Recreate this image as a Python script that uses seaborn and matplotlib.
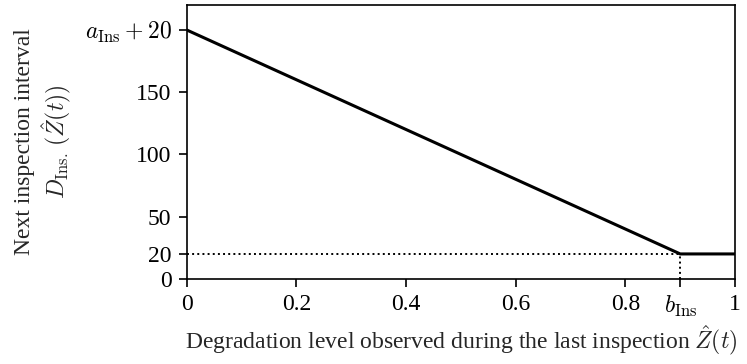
import matplotlib
matplotlib.use("Agg")
import matplotlib.pyplot as plt
import seaborn as sns
import pandas as pd

# Data
degradation = [0.0, 0.9, 1.0]
interval = [200, 20, 20]
b_ins = 0.9
d_min = 20
x_ticks = [0, 0.2, 0.4, 0.6, 0.8, 0.9, 1]
x_ticklabels = ["0", "0.2", "0.4", "0.6", "0.8", r"$b_{\mathrm{Ins}}$", "1"]
y_ticks = [0, 20, 50, 100, 150, 200]
y_ticklabels = ["0", "20", "50", "100", "150", r"$a_{\mathrm{Ins}}+20$"]

sns.set_theme(style="ticks")
plt.rcParams["font.family"] = ["Liberation Serif", "DejaVu Serif"]
plt.rcParams["mathtext.fontset"] = "cm"

FS = 17

fig, ax = plt.subplots(figsize=(7.47, 3.64), dpi=100)
fig.subplots_adjust(left=0.25, right=0.984, top=0.986, bottom=0.234)

df = pd.DataFrame({"x": degradation, "y": interval})
sns.lineplot(data=df, x="x", y="y", ax=ax, color="black", linewidth=2.2)

ax.plot([0, b_ins], [d_min, d_min], color="black", linewidth=1.4, linestyle=":")
ax.plot([b_ins, b_ins], [0, d_min], color="black", linewidth=1.4, linestyle=":")

ax.set_xlim(0, 1)
ax.set_ylim(0, 220)
ax.set_xticks(x_ticks)
ax.set_xticklabels(x_ticklabels)
ax.set_yticks(y_ticks)
ax.set_yticklabels(y_ticklabels)
ax.tick_params(labelsize=FS, length=6, width=1.2, colors="black", pad=5)
for s in ax.spines.values():
    s.set_linewidth(1.2)
    s.set_color("black")

ax.set_xlabel(r"Degradation level observed during the last inspection $\hat{Z}(t)$", fontsize=FS, labelpad=3)
ax.set_ylabel("Next inspection interval\n" + r"$D_{\mathrm{Ins.}}\,(\hat{Z}(t))$", fontsize=FS, labelpad=8)

fig.savefig("out.png", dpi=100)
